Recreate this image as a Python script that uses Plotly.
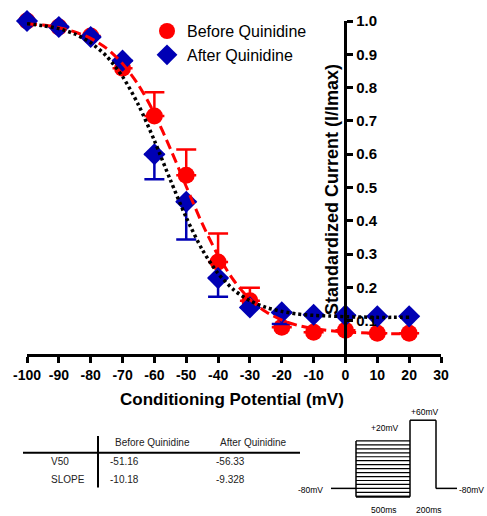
import plotly.graph_objects as go

# ---------------- data ----------------
voltages = [-100, -90, -80, -70, -60, -50, -40, -30, -20, -10, 0, 10, 20]
before_vals = [1.0, 0.982, 0.955, 0.858, 0.715, 0.537, 0.276, 0.160, 0.080, 0.065, 0.071, 0.062, 0.062]
before_err_up = [0, 0, 0, 0, 0.071, 0.077, 0.086, 0.039, 0, 0, 0, 0, 0]
after_vals = [1.0, 0.982, 0.952, 0.881, 0.600, 0.457, 0.228, 0.140, 0.125, 0.118, 0.116, 0.113, 0.113]
after_err_down = [0, 0, 0, 0, 0.075, 0.113, 0.056, 0, 0.035, 0, 0, 0, 0]

fit_v = [-100, -95, -90, -85, -80, -75, -70, -65, -60, -55, -50, -45, -40,
         -35, -30, -25, -20, -15, -10, -5, 0, 5, 10, 15, 20]
before_fit = [0.992, 0.988, 0.980, 0.967, 0.948, 0.918, 0.872, 0.808, 0.722, 0.617,
              0.503, 0.392, 0.296, 0.220, 0.164, 0.127, 0.102, 0.086, 0.076, 0.070,
              0.066, 0.064, 0.062, 0.061, 0.060]
after_fit = [0.992, 0.986, 0.977, 0.961, 0.935, 0.894, 0.833, 0.748, 0.641, 0.523,
             0.410, 0.314, 0.242, 0.192, 0.160, 0.140, 0.128, 0.120, 0.116, 0.114,
             0.112, 0.111, 0.110, 0.110, 0.110]

x_ticks = [-100, -90, -80, -70, -60, -50, -40, -30, -20, -10, 0, 10, 20, 30]
y_ticks = [0.1, 0.2, 0.3, 0.4, 0.5, 0.6, 0.7, 0.8, 0.9, 1.0]

table_cols = ["Before Quinidine", "After Quinidine"]
table_rows = ["V50", "SLOPE"]
table_before = ["-51.16", "-10.18"]
table_after = ["-56.33", "-9.328"]

# ---------------- layout geometry ----------------
W, H = 487, 516
L, R, T, B = 27, 46, 17, 162
PW, PH = W - L - R, H - T - B
XMIN, XMAX = -100, 30
FONT = "Liberation Sans, Arial, Helvetica, sans-serif"


def px(xp):
    return (xp - L) / PW


def py(yp):
    return (H - B - yp) / PH


fig = go.Figure()

fig.add_trace(go.Scatter(
    x=voltages, y=before_vals, mode="markers", name="Before Quinidine",
    marker=dict(symbol="circle", size=17, color="#ff0000"),
    error_y=dict(type="data", symmetric=False, array=before_err_up,
                 arrayminus=[0] * len(voltages), color="#ff0000",
                 thickness=2.5, width=10),
    cliponaxis=False,
))
fig.add_trace(go.Scatter(
    x=voltages, y=after_vals, mode="markers", name="After Quinidine",
    marker=dict(symbol="diamond", size=17, color="#0000b4"),
    error_y=dict(type="data", symmetric=False, array=[0] * len(voltages),
                 arrayminus=after_err_down, color="#0000b4",
                 thickness=2.5, width=10),
    cliponaxis=False,
))
fig.add_trace(go.Scatter(
    x=fit_v, y=before_fit, mode="lines", showlegend=False,
    line=dict(color="#ff0000", width=3, dash="10px,5px", shape="spline", smoothing=0.8),
    cliponaxis=False,
))
fig.add_trace(go.Scatter(
    x=fit_v, y=after_fit, mode="lines", showlegend=False,
    line=dict(color="#000000", width=3.5, dash="3px,3px", shape="spline", smoothing=0.8),
    cliponaxis=False,
))

shapes = []
annotations = []

# axis titles
annotations.append(dict(
    text="<b>Conditioning Potential (mV)</b>", x=px(232), y=py(400),
    xref="paper", yref="paper", showarrow=False, xanchor="center", yanchor="middle",
    font=dict(family=FONT, size=17, color="black")))
annotations.append(dict(
    text="<b>Standardized Current (I/Imax)</b>", x=px(332), y=py(188),
    xref="paper", yref="paper", showarrow=False, textangle=-90,
    xanchor="center", yanchor="middle",
    font=dict(family=FONT, size=18, color="black")))

# ---------------- parameter table ----------------
tcol = "#222222"
shapes.append(dict(type="line", xref="paper", yref="paper",
                   x0=px(23), x1=px(300), y0=py(454), y1=py(454),
                   line=dict(color="black", width=2)))
shapes.append(dict(type="line", xref="paper", yref="paper",
                   x0=px(98), x1=px(98), y0=py(437), y1=py(489),
                   line=dict(color="black", width=2)))
col_x = [113, 218]
for cx, ctext in zip(col_x, table_cols):
    annotations.append(dict(text=ctext, x=px(cx), y=py(444), xref="paper", yref="paper",
                            showarrow=False, xanchor="left", yanchor="middle",
                            font=dict(family=FONT, size=10, color=tcol)))
row_y = [463, 481]
for ry, rname, vb, va in zip(row_y, table_rows, table_before, table_after):
    annotations.append(dict(text=rname, x=px(49), y=py(ry), xref="paper", yref="paper",
                            showarrow=False, xanchor="left", yanchor="middle",
                            font=dict(family=FONT, size=10, color=tcol)))
    annotations.append(dict(text=vb, x=px(108), y=py(ry), xref="paper", yref="paper",
                            showarrow=False, xanchor="left", yanchor="middle",
                            font=dict(family=FONT, size=10, color=tcol)))
    annotations.append(dict(text=va, x=px(214), y=py(ry), xref="paper", yref="paper",
                            showarrow=False, xanchor="left", yanchor="middle",
                            font=dict(family=FONT, size=10, color=tcol)))

# ---------------- voltage protocol diagram ----------------


def seg(x0, y0, x1, y1, w=1.5):
    shapes.append(dict(type="line", xref="paper", yref="paper",
                       x0=px(x0), x1=px(x1), y0=py(y0), y1=py(y1),
                       line=dict(color="black", width=w)))


seg(331, 490, 356, 490)
seg(356, 442, 356, 498.5)
seg(410, 421, 410, 498.5)
n_steps = 15
for i in range(n_steps):
    yy = 442 + i * (56 / (n_steps - 1))
    seg(356, yy, 410, yy, 1.2)
seg(356, 498.5, 410, 498.5, 2)
seg(410, 421, 436, 421)
seg(436, 421, 436, 490)
seg(436, 490, 457, 490)

small = dict(family=FONT, size=8.5, color="black")
for txt, xx, yy, anc in [("-80mV", 297, 492, "left"), ("+20mV", 370, 429, "left"),
                         ("+60mV", 410, 413, "left"), ("-80mV", 485, 492, "right"),
                         ("500ms", 370, 512, "left"), ("200ms", 415, 512, "left")]:
    annotations.append(dict(text=txt, x=px(xx), y=py(yy), xref="paper", yref="paper",
                            showarrow=False, xanchor=anc, yanchor="middle", font=small,
                            borderpad=0))

fig.update_layout(
    width=W, height=H,
    margin=dict(l=L, r=R, t=T, b=B, pad=0),
    paper_bgcolor="white", plot_bgcolor="white",
    font=dict(family=FONT, color="black"),
    xaxis=dict(range=[XMIN, XMAX], tickvals=x_ticks, ticktext=[str(v) for v in x_ticks],
               showgrid=False, zeroline=False, showline=True, linecolor="black",
               linewidth=2.5, ticks="outside", ticklen=6, tickwidth=2.5, tickcolor="black",
               tickfont=dict(family=FONT, size=14, color="black", weight="bold"),
               anchor="y", fixedrange=True),
    yaxis=dict(range=[0, 1.0], tickvals=y_ticks, ticktext=[f"{v:.1f}" for v in y_ticks],
               showgrid=False, zeroline=False, showline=True, linecolor="black",
               linewidth=2.5, ticks="outside", ticklen=6, tickwidth=2.5, tickcolor="black",
               tickfont=dict(family=FONT, size=15, color="black", weight="bold"),
               side="right", anchor="free", position=(0 - XMIN) / (XMAX - XMIN),
               fixedrange=True),
    legend=dict(x=px(147), y=py(10), xanchor="left", yanchor="top",
                font=dict(family=FONT, size=16, color="black"),
                bgcolor="rgba(0,0,0,0)", itemsizing="trace", tracegroupgap=0),
    shapes=shapes, annotations=annotations,
)

fig.write_html("out.html")
